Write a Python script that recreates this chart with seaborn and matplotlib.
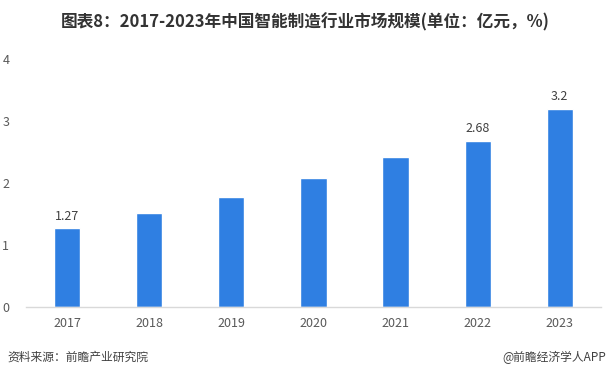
import matplotlib
matplotlib.use("Agg")
import matplotlib.pyplot as plt
import seaborn as sns
import pandas as pd

years = ["2017", "2018", "2019", "2020", "2021", "2022", "2023"]
values = [1.27, 1.51, 1.77, 2.08, 2.42, 2.68, 3.2]
labels = ["1.27", "", "", "", "", "2.68", "3.2"]
yticks = [0, 1, 2, 3, 4]

sns.set_theme(style="white")
plt.rcParams['font.family'] = ['Noto Sans CJK SC', 'DejaVu Sans']

df = pd.DataFrame({"year": years, "value": values})

fig = plt.figure(figsize=(6.1, 3.8), dpi=100)
ax = fig.add_axes([0.0426, 0.192, 0.9424, 0.653])
sns.barplot(data=df, x="year", y="value", color="#2F7FE2", width=0.32,
            saturation=1, ax=ax)
ax.set_xlim(-0.5, 6.5)
ax.set_ylim(0, 4)
ax.set_yticks(yticks)
ax.set_yticklabels([str(t) for t in yticks])
ax.set_xlabel("")
ax.set_ylabel("")
for s in ["top", "right", "left"]:
    ax.spines[s].set_visible(False)
ax.spines["bottom"].set_color("#D9D9D9")
ax.spines["bottom"].set_linewidth(1)
ax.tick_params(axis="both", length=0, labelsize=9, colors="#595959")
ax.tick_params(axis="x", pad=7)
ax.tick_params(axis="y", pad=12)
for lbl in ax.get_yticklabels():
    lbl.set_horizontalalignment("left")
ax.yaxis.set_tick_params(pad=17)

for i, (v, t) in enumerate(zip(values, labels)):
    if t:
        ax.annotate(t, (i, v), xytext=(0, 4), textcoords="offset points",
                    ha="center", va="bottom", fontsize=9, color="#404040")

fig.text(0.5, 0.942, "图表8：2017-2023年中国智能制造行业市场规模(单位：亿元，%)",
         ha="center", va="center", fontsize=12, fontweight="bold", color="#333333")
fig.text(0.013, 0.06, "资料来源：前瞻产业研究院", ha="left", va="center",
         fontsize=8.5, color="#404040")
fig.text(0.993, 0.06, "@前瞻经济学人APP", ha="right", va="center",
         fontsize=8.5, color="#404040")

fig.savefig("out.png", dpi=100, facecolor="white")
